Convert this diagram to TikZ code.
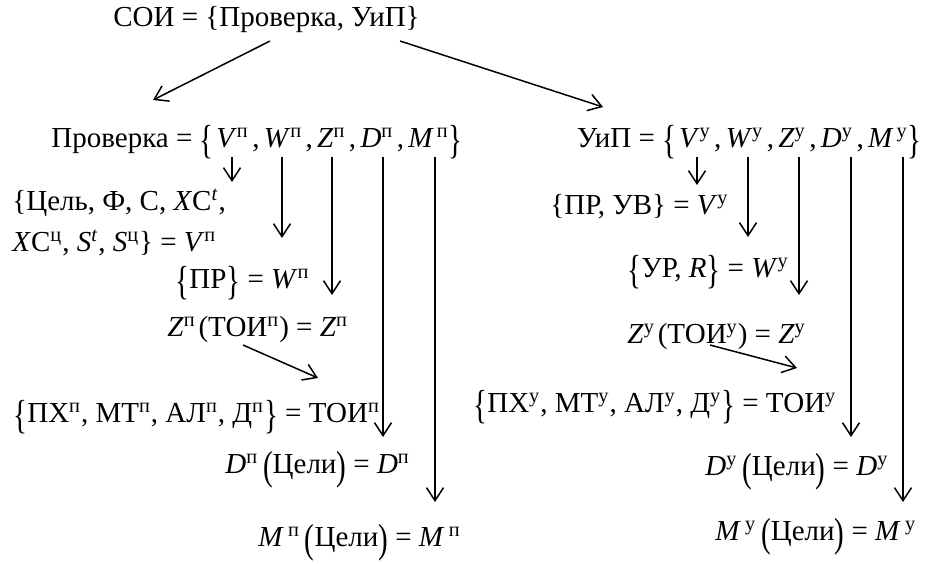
\documentclass[tikz,border=0pt]{standalone}
\usepackage{fontspec}
\setmainfont{Liberation Serif}
\usepackage{graphicx}
\usetikzlibrary{arrows.meta}

\newcommand{\vi}[1]{\textit{#1\/}}
\newcommand{\up}[1]{\textsuperscript{#1}}
\newcommand{\cm}{\hspace{0.12em},\hspace{0.15em}}
\newcommand{\lb}{\raisebox{-0.2em}{\scalebox{1}[1.4]{\{}}}
\newcommand{\rb}{\raisebox{-0.2em}{\scalebox{1}[1.4]{\}}}}
\newcommand{\lp}{\raisebox{-0.2em}{\scalebox{1}[1.4]{(}}}
\newcommand{\rp}{\raisebox{-0.2em}{\scalebox{1}[1.4]{)}}}

\begin{document}
\begin{tikzpicture}[x=0.5pt,y=-0.5pt,
  n/.style={anchor=west,inner sep=0pt,font=\fontsize{14.5}{17}\selectfont},
  ar/.style={-{Straight Barb[length=6.5pt,width=8.5pt]},line width=0.75pt}]
\useasboundingbox (0,0) rectangle (926,563);
% top
\node[n] (soi) at (113,20) {СОИ = \{Проверка, УиП\}};
\node[n,anchor=east] (prov) at (463,142) {Проверка = \lb\hspace{0.1em}\vi{V}\up{п}\cm\vi{W}\up{п}\cm\vi{Z}\up{п}\cm\vi{D}\up{п}\cm\vi{M}\hspace{0.1em}\up{п}\rb};
\node[n,anchor=east] (uip) at (922,142) {УиП = \lb\hspace{0.1em}\vi{V}\up{у}\cm\vi{W}\up{у}\cm\vi{Z}\up{у}\cm\vi{D}\up{у}\cm\vi{M}\hspace{0.1em}\up{у}\rb};
% left branch
\node[n] (vp1) at (12,203) {\{Цель, Ф, С, \vi{X}С\up{\vi{t}},};
\node[n] (vp2) at (12,243) {\vi{X}С\up{ц}, \vi{S}\up{\vi{t}}, \vi{S}\up{ц}\} = \vi{V}\up{п}};
\node[n] (wp) at (175,283) {\lb ПР\rb{} = \vi{W}\up{п}};
\node[n] (zp) at (167,330) {\vi{Z}\up{п}\hspace{0.1em}(ТОИ\up{п}) = \vi{Z}\up{п}};
\node[n] (tp) at (13,417) {\lb ПХ\up{п}, МТ\up{п}, АЛ\up{п}, Д\up{п}\rb{} = ТОИ\up{п}};
\node[n] (dp) at (225,470) {\vi{D}\up{п}\,\lp Цели\rp{} = \vi{D}\up{п}};
\node[n] (mp) at (258,543) {\vi{M}\hspace{0.15em}\up{п}\,\lp Цели\rp{} = \vi{M}\hspace{0.15em}\up{п}};
% right branch
\node[n] (vu) at (550,207) {\{ПР, УВ\} = \vi{V}\up{у}};
\node[n] (wu) at (627,272) {\lb УР, \vi{R}\rb{} = \vi{W}\up{у}};
\node[n] (zu) at (627,337) {\vi{Z}\up{у}\hspace{0.1em}(ТОИ\up{у}) = \vi{Z}\up{у}};
\node[n] (tu) at (473,407) {\lb ПХ\up{у}, МТ\up{у}, АЛ\up{у}, Д\up{у}\rb{} = ТОИ\up{у}};
\node[n] (du) at (705,472) {\vi{D}\up{у}\,\lp Цели\rp{} = \vi{D}\up{у}};
\node[n] (mu) at (715,537) {\vi{M}\hspace{0.15em}\up{у}\,\lp Цели\rp{} = \vi{M}\hspace{0.15em}\up{у}};
% arrows
\coordinate (soiL) at (270,41);
\coordinate (soiR) at (400,41);
\coordinate (provT) at (153,100);
\coordinate (uipT) at (603,107);
\draw[ar] (soiL) -- (provT);
\draw[ar] (soiR) -- (uipT);
\foreach \nm/\x/\y in {av/232/182,aw/282/238,az/332/295,ad/383/437,am/435/502,
                       bv/697/185,bw/748/237,bz/799/295,bd/851/437,bm/903/502}{
  \coordinate (\nm s) at (\x,157);
  \coordinate (\nm e) at (\x,\y);
  \draw[ar] (\nm s) -- (\nm e);
}
\coordinate (zpT) at (243,345);
\coordinate (tpT) at (318,378);
\coordinate (zuT) at (710,345);
\coordinate (tuT) at (797,368);
\draw[ar] (zpT) -- (tpT);
\draw[ar] (zuT) -- (tuT);
\end{tikzpicture}
\end{document}
